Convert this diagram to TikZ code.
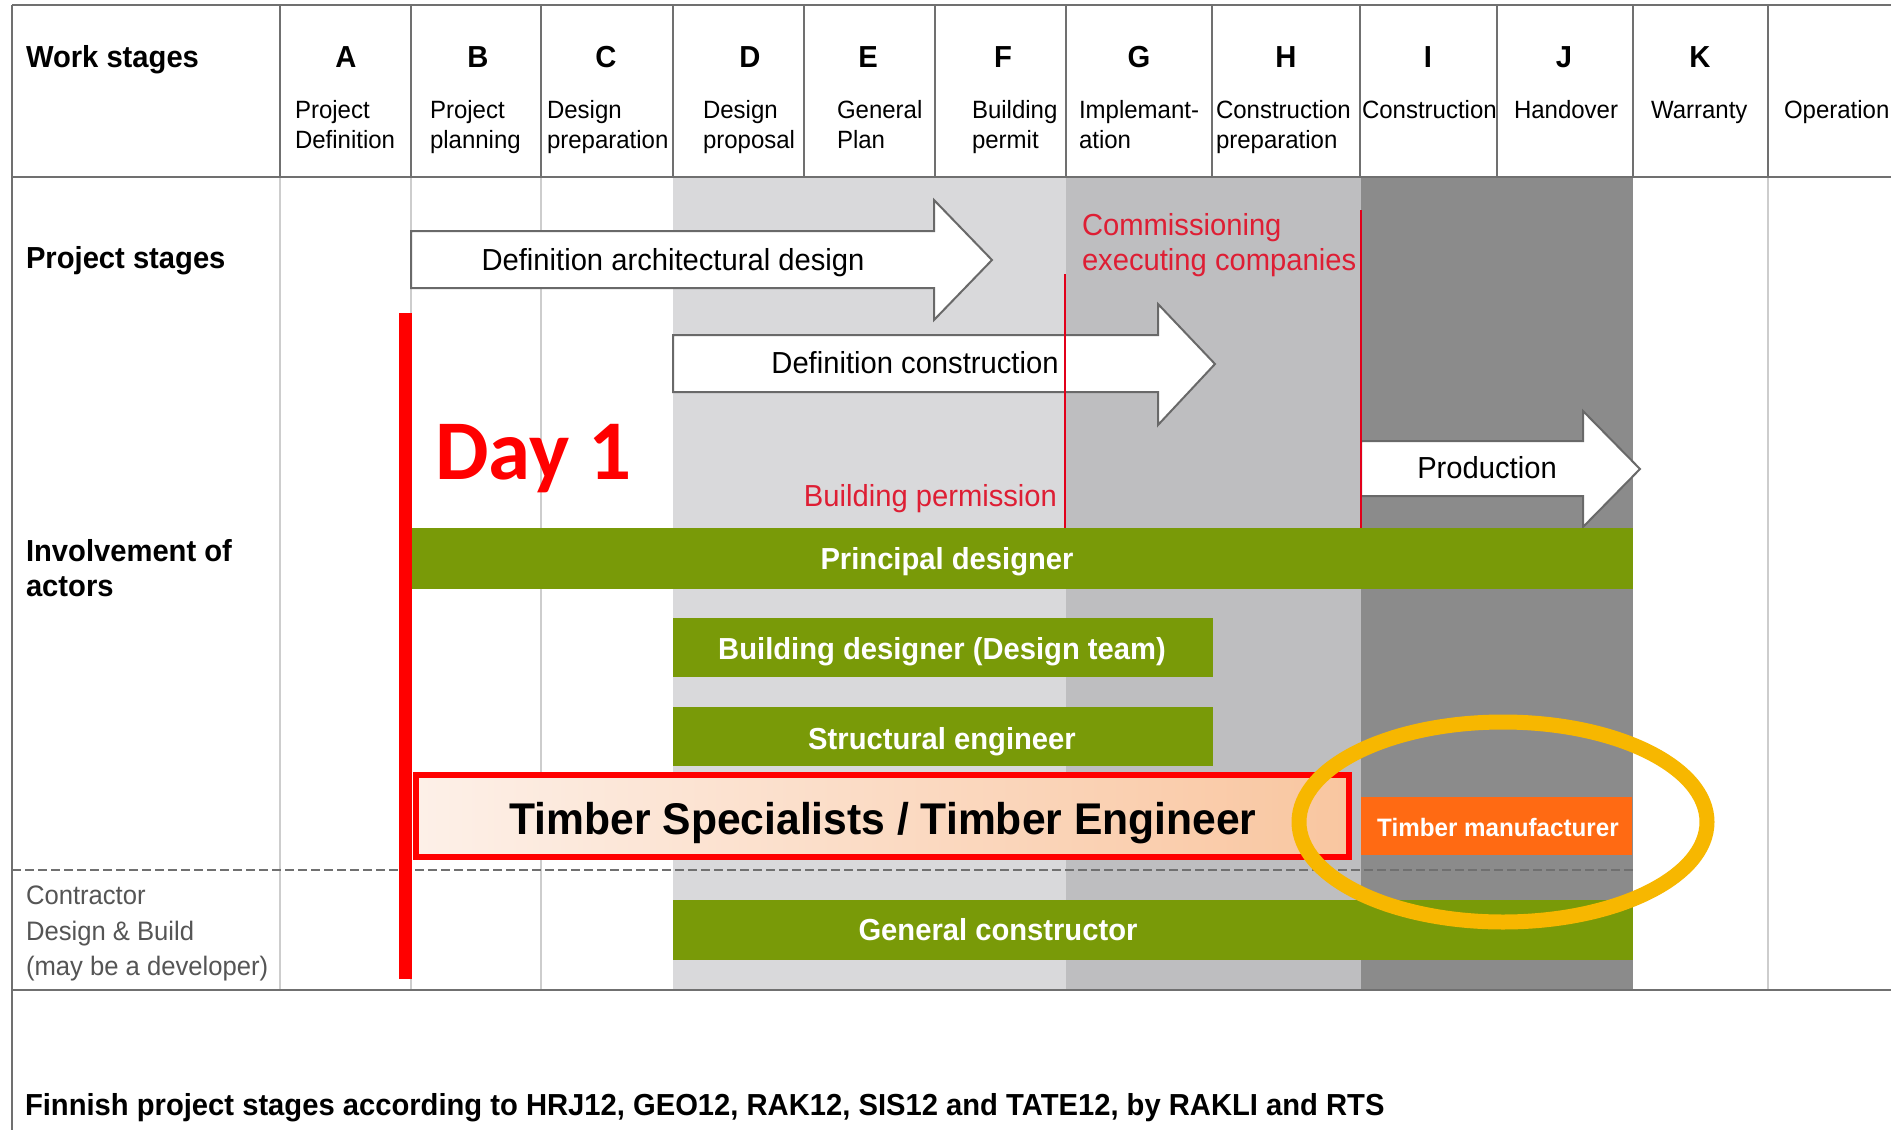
\documentclass[tikz,border=0pt]{standalone}
\usepackage{fontspec}
\setmainfont{Liberation Sans}[FakeStretch=0.96]
\newfontfamily\dayfont{Carlito}

\definecolor{gridline}{RGB}{112,112,112}
\definecolor{faintline}{RGB}{205,205,205}
\definecolor{phaseA}{RGB}{217,217,219}
\definecolor{phaseB}{RGB}{190,190,192}
\definecolor{phaseC}{RGB}{139,139,139}
\definecolor{actorgreen}{RGB}{121,154,8}
\definecolor{arrowedge}{RGB}{105,105,105}
\definecolor{milestone}{RGB}{226,0,26}
\definecolor{milestonetext}{RGB}{222,30,52}
\definecolor{alertred}{RGB}{255,0,0}
\definecolor{mfgorange}{RGB}{255,106,19}
\definecolor{ringgold}{RGB}{247,183,0}
\definecolor{notegray}{RGB}{85,85,85}
\definecolor{peachL}{RGB}{253,240,232}
\definecolor{peachR}{RGB}{249,198,160}

\newcommand\fs[1]{\fontsize{#1}{#1}\selectfont}

\begin{document}
\begin{tikzpicture}[x=1pt,y=-1pt,
  txt/.style={inner sep=0pt, outer sep=0pt, font=\fs{30.4}},
  lbl/.style={txt, font=\fs{30.4}\bfseries, anchor=base west},
  note/.style={txt, font=\fs{26.7}, text=notegray, anchor=base west},
  stageletter/.style={txt, font=\fs{30.4}\bfseries, anchor=base},
  stagename/.style={txt, font=\fs{25}, anchor=base west},
  arrowtxt/.style={txt, anchor=base},
  redlbl/.style={txt, text=milestonetext},
  bartxt/.style={txt, font=\fs{30.4}\bfseries, text=white, anchor=base},
  stagearrow/.style={draw=arrowedge, fill=white, line width=2, line join=miter},
  actorbar/.style={fill=actorgreen},
  hrule/.style={draw=gridline, line width=2.5},
  vrule/.style={draw=gridline, line width=1.8},
  thinrule/.style={draw=faintline, line width=1.5},
  separator/.style={draw=gridline, line width=2.2, dash pattern=on 9pt off 4pt},
  milestoneline/.style={draw=milestone, line width=2.5}
]
\useasboundingbox (0,0) rectangle (1891,1130);
\fill[white] (0,0) rectangle (1891,1130);

% ---- phase shading of the body ----
\fill[phaseA] (673,177) rectangle (1066,990);
\fill[phaseB] (1066,177) rectangle (1361,990);
\fill[phaseC] (1361,177) rectangle (1633,990);

% ---- faint column rules in the body ----
\foreach \cx in {280,411,541,1768}
  \draw[thinrule] (\cx,177) -- (\cx,990);

% ---- table frame and header columns ----
\draw[hrule] (12,5) -- (1891,5);
\draw[hrule] (12,177) -- (1891,177);
\draw[hrule] (12,990) -- (1891,990);
\draw[vrule] (12,5) -- (12,1130);
\foreach \cx in {280,411,541,673,804,935,1066,1212,1360,1497,1633,1768}
  \draw[vrule] (\cx,5) -- (\cx,177);

% ---- project stage arrows ----
\draw[stagearrow] (411,231) -- (934,231) -- (934,200) -- (992,260) -- (934,320) -- (934,288) -- (411,288) -- cycle;
\draw[stagearrow] (673,335) -- (1158,335) -- (1158,304) -- (1215,364) -- (1158,425) -- (1158,392) -- (673,392) -- cycle;
\draw[stagearrow] (1361,441) -- (1583,441) -- (1583,411) -- (1640,469) -- (1583,527) -- (1583,496) -- (1361,496) -- cycle;

% ---- milestones ----
\draw[milestoneline] (1065,274) -- (1065,528);
\draw[milestoneline] (1361,210) -- (1361,528);

% ---- actor bars ----
\fill[actorbar] (411,528) rectangle (1633,589);
\fill[actorbar] (673,618) rectangle (1213,677);
\fill[actorbar] (673,707) rectangle (1213,766);
\fill[actorbar] (673,900) rectangle (1633,960);

% ---- separator between designers and contractor ----
\draw[separator] (12,870) -- (1633,870);

% ---- timber specialists and manufacturer ----
\draw[alertred, line width=6, left color=peachL, right color=peachR] (416,775) rectangle (1349,857);
\fill[mfgorange] (1361,797) rectangle (1632,855);
\draw[ringgold, line width=15] (1503,822) ellipse [x radius=204, y radius=100];

% ---- day 1 marker ----
\fill[alertred] (399,313) rectangle (412,979);

% ---- row labels ----
\node[lbl] (work) at (26,67) {Work stages};
\node[lbl] (proj) at (26,268) {Project stages};
\node[lbl] (inv1) at (26,561) {Involvement of};
\node[lbl] (inv2) at (26,596) {actors};
\node[note] (con1) at (26,904) {Contractor};
\node[note] (con2) at (26,940) {Design \& Build};
\node[note] (con3) at (26,975) {(may be a developer)};

% ---- header: stage letters and names ----
\foreach \cx/\L in {346/A,478/B,606/C,750/D,868/E,1003/F,1139/G,1286/H,1428/I,1564/J,1700/K}
  \node[stageletter] (L\L) at (\cx,67) {\L};
\foreach \cx/\id/\ta/\tb in {295/A/Project/Definition, 430/B/Project/planning,
    547/C/Design/preparation, 703/D/Design/proposal, 837/E/General/Plan,
    972/F/Building/permit, 1079/G/Implemant-/ation, 1216/H/Construction/preparation}{
  \node[stagename] (n\id-1) at (\cx,118) {\ta};
  \node[stagename] (n\id-2) at (\cx,148) {\tb};
}
\node[stagename] (nI-1) at (1362,118) {Construction};
\node[stagename] (nJ-1) at (1514,118) {Handover};
\node[stagename] (nK-1) at (1651,118) {Warranty};
\node[stagename] (nL-1) at (1784,118) {Operation};

% ---- arrow texts ----
\node[arrowtxt] (tdesign) at (673,270) {Definition architectural design};
\node[arrowtxt] (tconstr) at (915,373) {Definition construction};
\node[arrowtxt] (tprod) at (1487,478) {Production};

% ---- milestone texts ----
\node[redlbl, anchor=base west] (comm1) at (1082,235) {Commissioning};
\node[redlbl, anchor=base west] (comm2) at (1082,270) {executing companies};
\node[redlbl, anchor=base east] (perm) at (1057,506) {Building permission};

% ---- actor texts ----
\node[bartxt] (tprin) at (947,569) {Principal designer};
\node[bartxt] (tbuild) at (942,659) {Building designer (Design team)};
\node[bartxt] (tstruct) at (942,749) {Structural engineer};
\node[bartxt] (tgen) at (998,940) {General constructor};
\node[txt, font=\fs{44.4}\bfseries, anchor=base] (tspec) at (883,834) {Timber Specialists / Timber Engineer};
\node[txt, font=\fs{25.2}\bfseries, text=white, anchor=base] (tmfg) at (1498,836) {Timber manufacturer};

\node[txt, font=\dayfont\bfseries\fs{85}, text=alertred, anchor=base west] (day1) at (435,479) {Day 1};

% ---- caption ----
\node[lbl] (foot) at (25,1115) {Finnish project stages according to HRJ12, GEO12, RAK12, SIS12 and TATE12, by RAKLI and RTS};
\end{tikzpicture}
\end{document}
